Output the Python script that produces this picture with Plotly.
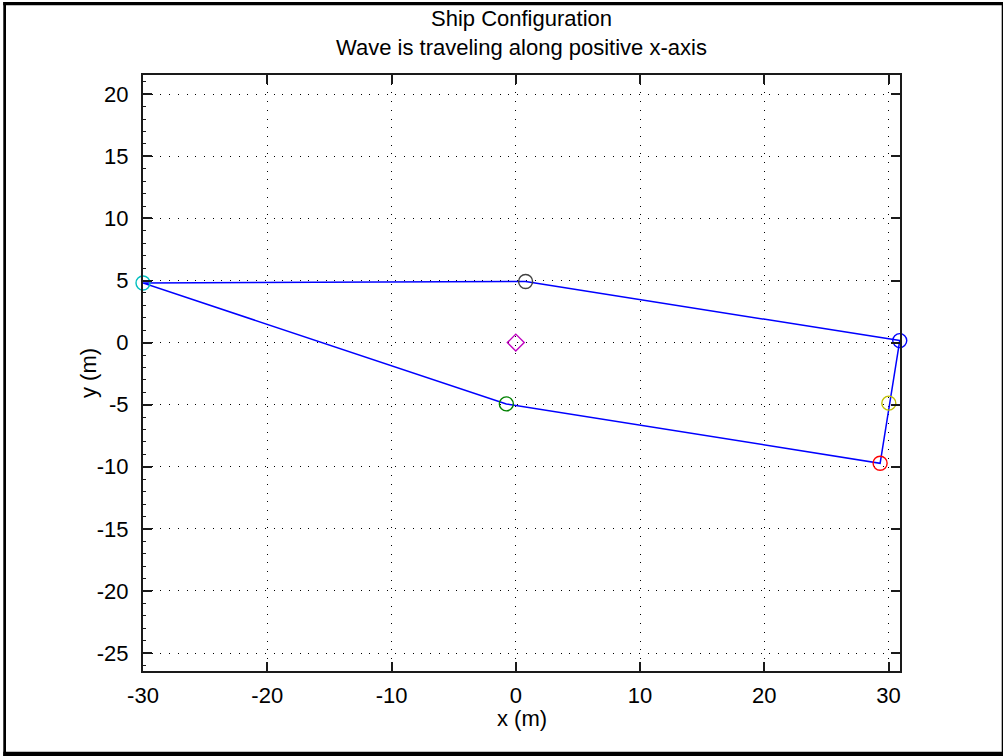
import plotly.graph_objects as go

# Hull corner nodes (m), in drawing order around the outline
node_names = ["stern top", "midship top", "bow", "bow bottom", "midship bottom"]
node_x = [-30.0, 0.79, 30.9, 29.32, -0.76]
node_y = [4.8, 4.92, 0.16, -9.72, -4.94]
node_colors = ["#00bfbf", "#404040", "#0000ff", "#ff0000", "#008000"]

# Extra reference points
bow_mid_x = [30.02]
bow_mid_y = [-4.88]
bow_mid_color = "#bfbf00"
cg_x = [0.0]
cg_y = [0.0]
cg_color = "#bf00bf"

# Axis settings
x_range = [-30.0, 30.92]
y_range = [-26.45, 21.55]
x_ticks = [-30, -20, -10, 0, 10, 20, 30]
y_ticks = [-25, -20, -15, -10, -5, 0, 5, 10, 15, 20]
x_ticktext = [str(v) for v in x_ticks]
y_ticktext = [str(v) for v in y_ticks]

title_lines = ["Ship Configuration", "Wave is traveling along positive x-axis"]
x_label = "x (m)"
y_label = "y (m)"

FONT = "Liberation Sans, Arial, sans-serif"
FS = 22
W, H = 1003, 756
L, R, T, B = 143, 103, 75, 85
PW, PH = W - L - R, H - T - B

fig = go.Figure()

# closed outline of the hull
outline_x = node_x + [node_x[0]]
outline_y = node_y + [node_y[0]]
fig.add_trace(go.Scatter(x=outline_x, y=outline_y, mode="lines",
                         line=dict(color="#0000ff", width=1.5),
                         hoverinfo="skip", showlegend=False, cliponaxis=False))

for nx, ny, c, nm in zip(node_x, node_y, node_colors, node_names):
    fig.add_trace(go.Scatter(x=[nx], y=[ny], mode="markers", name=nm,
                             marker=dict(symbol="circle-open", size=14,
                                         color=c, line=dict(color=c, width=1.4)),
                             showlegend=False, cliponaxis=False))

fig.add_trace(go.Scatter(x=bow_mid_x, y=bow_mid_y, mode="markers",
                         marker=dict(symbol="circle-open", size=14, color=bow_mid_color,
                                     line=dict(color=bow_mid_color, width=1.4)),
                         showlegend=False, cliponaxis=False))
fig.add_trace(go.Scatter(x=cg_x, y=cg_y, mode="markers",
                         marker=dict(symbol="diamond-open", size=13, color=cg_color,
                                     line=dict(color=cg_color, width=1.4)),
                         showlegend=False, cliponaxis=False))

# invisible trace to carry the minor-tick axis on the left side
fig.add_trace(go.Scatter(x=[None], y=[None], yaxis="y2", showlegend=False,
                         hoverinfo="skip"))

grid_dash = "1px,7.7px"
axis_color = "#1a1a1a"

fig.update_layout(
    width=W, height=H,
    margin=dict(l=L, r=R, t=T, b=B, pad=0),
    paper_bgcolor="white", plot_bgcolor="white",
    font=dict(family=FONT, size=FS, color="#000000"),
    showlegend=False,
    xaxis=dict(range=x_range, tickvals=x_ticks, ticktext=x_ticktext,
               ticks="inside", ticklen=9, tickwidth=1.5, tickcolor=axis_color,
               showline=True, linewidth=2, linecolor=axis_color, mirror="ticks",
               showgrid=True, gridcolor="#000000", gridwidth=1, griddash=grid_dash,
               zeroline=False, tickfont=dict(family=FONT, size=FS),
               ticklabelstandoff=4),
    yaxis=dict(range=y_range, tickvals=y_ticks, ticktext=y_ticktext,
               ticks="inside", ticklen=9, tickwidth=1.5, tickcolor=axis_color,
               showline=True, linewidth=2, linecolor=axis_color, mirror="ticks",
               showgrid=True, gridcolor="#000000", gridwidth=1, griddash=grid_dash,
               zeroline=False, tickfont=dict(family=FONT, size=FS),
               ticklabelstandoff=8),
    yaxis2=dict(range=y_range, overlaying="y", side="left", showline=False,
                showgrid=False, zeroline=False, showticklabels=False,
                tickvals=y_ticks, ticks="",
                minor=dict(ticks="inside", dtick=1, ticklen=3, tickwidth=1,
                           tickcolor=axis_color, showgrid=False)),
)

# two-line title
fig.add_annotation(text=title_lines[0], xref="paper", yref="paper", x=0.5, y=1,
                   xanchor="center", yanchor="middle", yshift=T - 18,
                   showarrow=False, font=dict(family=FONT, size=FS))
fig.add_annotation(text=title_lines[1], xref="paper", yref="paper", x=0.5, y=1,
                   xanchor="center", yanchor="middle", yshift=T - 47,
                   showarrow=False, font=dict(family=FONT, size=FS))
# axis labels
fig.add_annotation(text=x_label, xref="paper", yref="paper", x=0.5, y=0,
                   xanchor="center", yanchor="middle", yshift=-47,
                   showarrow=False, font=dict(family=FONT, size=FS))
fig.add_annotation(text=y_label, xref="paper", yref="paper", x=0, y=0.5,
                   xanchor="center", yanchor="middle", xshift=-55, textangle=-90,
                   showarrow=False, font=dict(family=FONT, size=FS))

# black frame around the figure
def px_x(p):
    return (p - L) / PW

def px_y(p):
    return (H - B - p) / PH

frame = [(3.3, 2.0, 6.0, 756.0), (3.3, 2.0, 1003.0, 5.3),
         (1001.7, 2.0, 1003.0, 756.0), (3.3, 751.7, 1003.0, 756.0)]
for x0, y0, x1, y1 in frame:
    fig.add_shape(type="rect", xref="paper", yref="paper",
                  x0=px_x(x0), x1=px_x(x1), y0=px_y(y1), y1=px_y(y0),
                  fillcolor="black", line=dict(width=0), layer="above")

fig.write_html("out.html", config={"displayModeBar": False})
